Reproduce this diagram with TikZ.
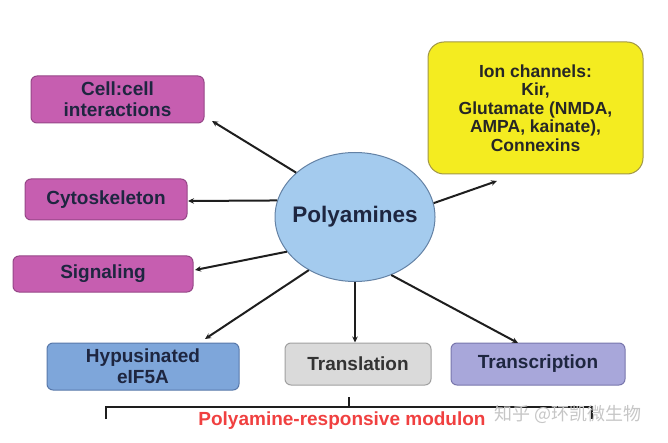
\documentclass[tikz,border=0pt]{standalone}
\usepackage{fontspec}
\setmainfont{Liberation Sans}
\newfontfamily\cjkfont{Noto Sans CJK SC}
\usetikzlibrary{arrows.meta,shapes.geometric,calc}
\definecolor{textnavy}{RGB}{30,38,64}
\definecolor{linedark}{RGB}{30,30,30}
\definecolor{boxpink}{RGB}{198,94,176}
\definecolor{edgepink}{RGB}{150,70,135}
\definecolor{boxyellow}{RGB}{244,236,32}
\definecolor{edgeyellow}{RGB}{160,150,70}
\definecolor{boxblue}{RGB}{126,166,218}
\definecolor{edgeblue}{RGB}{88,120,170}
\definecolor{boxgray}{RGB}{218,218,218}
\definecolor{edgegray}{RGB}{160,160,160}
\definecolor{boxlav}{RGB}{168,167,218}
\definecolor{edgelav}{RGB}{120,118,172}
\definecolor{polyblue}{RGB}{164,203,238}
\definecolor{edgepoly}{RGB}{100,130,165}
\definecolor{modred}{RGB}{240,64,64}

\begin{document}
\begin{tikzpicture}[x=1pt,y=-1pt]
	\path [use as bounding box] (0,0) rectangle (668,443);
	\tikzstyle{every node} = [font=\bfseries\fontsize{19}{21}\selectfont, text=textnavy, align=center]
	\tikzstyle{box} = [draw, rounded corners=6pt, line width=1pt, inner sep=0pt]
	\tikzstyle{link} = [line width=2pt, draw=linedark, -{Stealth[length=6pt,width=5.5pt]}]
	% centre
	\node [ellipse, draw=edgepoly, fill=polyblue, line width=1pt, minimum width=160pt, minimum height=129pt, inner sep=0pt] (poly) at (355,217) {};
	\node [font=\bfseries\fontsize{22.5}{24}\selectfont] (polytext) at (poly.center) {Polyamines};
	% left column
	\node [box, fill=boxpink, draw=edgepink, minimum width=173pt, minimum height=47pt] (cell) at (117.5,99.5) {Cell:cell\\interactions};
	\node [box, fill=boxpink, draw=edgepink, minimum width=162pt, minimum height=41pt] (cyto) at (106,199.5) {Cytoskeleton};
	\node [box, fill=boxpink, draw=edgepink, minimum width=180pt, minimum height=36pt] (signal) at (103,274) {Signaling};
	% right
	\node [box, rounded corners=16pt, fill=boxyellow, draw=edgeyellow, minimum width=215pt, minimum height=132pt, text=black!85, font=\bfseries\fontsize{17.5}{18.5}\selectfont] (ion) at (535.5,108) {Ion channels:\\Kir,\\Glutamate (NMDA,\\AMPA, kainate),\\Connexins};
	% bottom row
	\node [box, fill=boxblue, draw=edgeblue, minimum width=192pt, minimum height=47pt] (hyp) at (143,366.5) {Hypusinated\\eIF5A};
	\node [box, fill=boxgray, draw=edgegray, minimum width=146pt, minimum height=42pt, text=black!80] (trans) at (358,364) {Translation};
	\node [box, fill=boxlav, draw=edgelav, minimum width=174pt, minimum height=42pt] (transc) at (538,364) {Transcription};
	% arrow ends
	\coordinate (tcell) at (212,121);
	\coordinate (tcyto) at (188,201);
	\coordinate (tsignal) at (195,270);
	\coordinate (thyp) at (205,339);
	\coordinate (ttransc) at (518,343);
	\coordinate (tion) at (497,181);
	\draw [link] (poly.143) -- (tcell);
	\draw [link] (poly.168) -- (tcyto);
	\draw [link] (poly.207) -- (tsignal);
	\draw [link] (poly.229) -- (thyp);
	\draw [link] (poly.south) -- (poly.south |- trans.north);
	\draw [link] (poly.302) -- (ttransc);
	\draw [link] (poly.10) -- (tion);
	% modulon bracket
	\coordinate (bl) at (106,419);
	\coordinate (br) at (592,419);
	\draw [line width=1.8pt, draw=linedark] (bl) -- (106,407) -- (592,407) -- (br);
	\draw [line width=1.8pt, draw=linedark] (349,407) -- (349,397);
	\node [text=modred] (modulon) at (342,421) {Polyamine-responsive modulon};
	\node [text=gray!45, font=\cjkfont\fontsize{18}{20}\selectfont] (mark) at (568,414) {知乎 @环凯微生物};
\end{tikzpicture}
\end{document}
